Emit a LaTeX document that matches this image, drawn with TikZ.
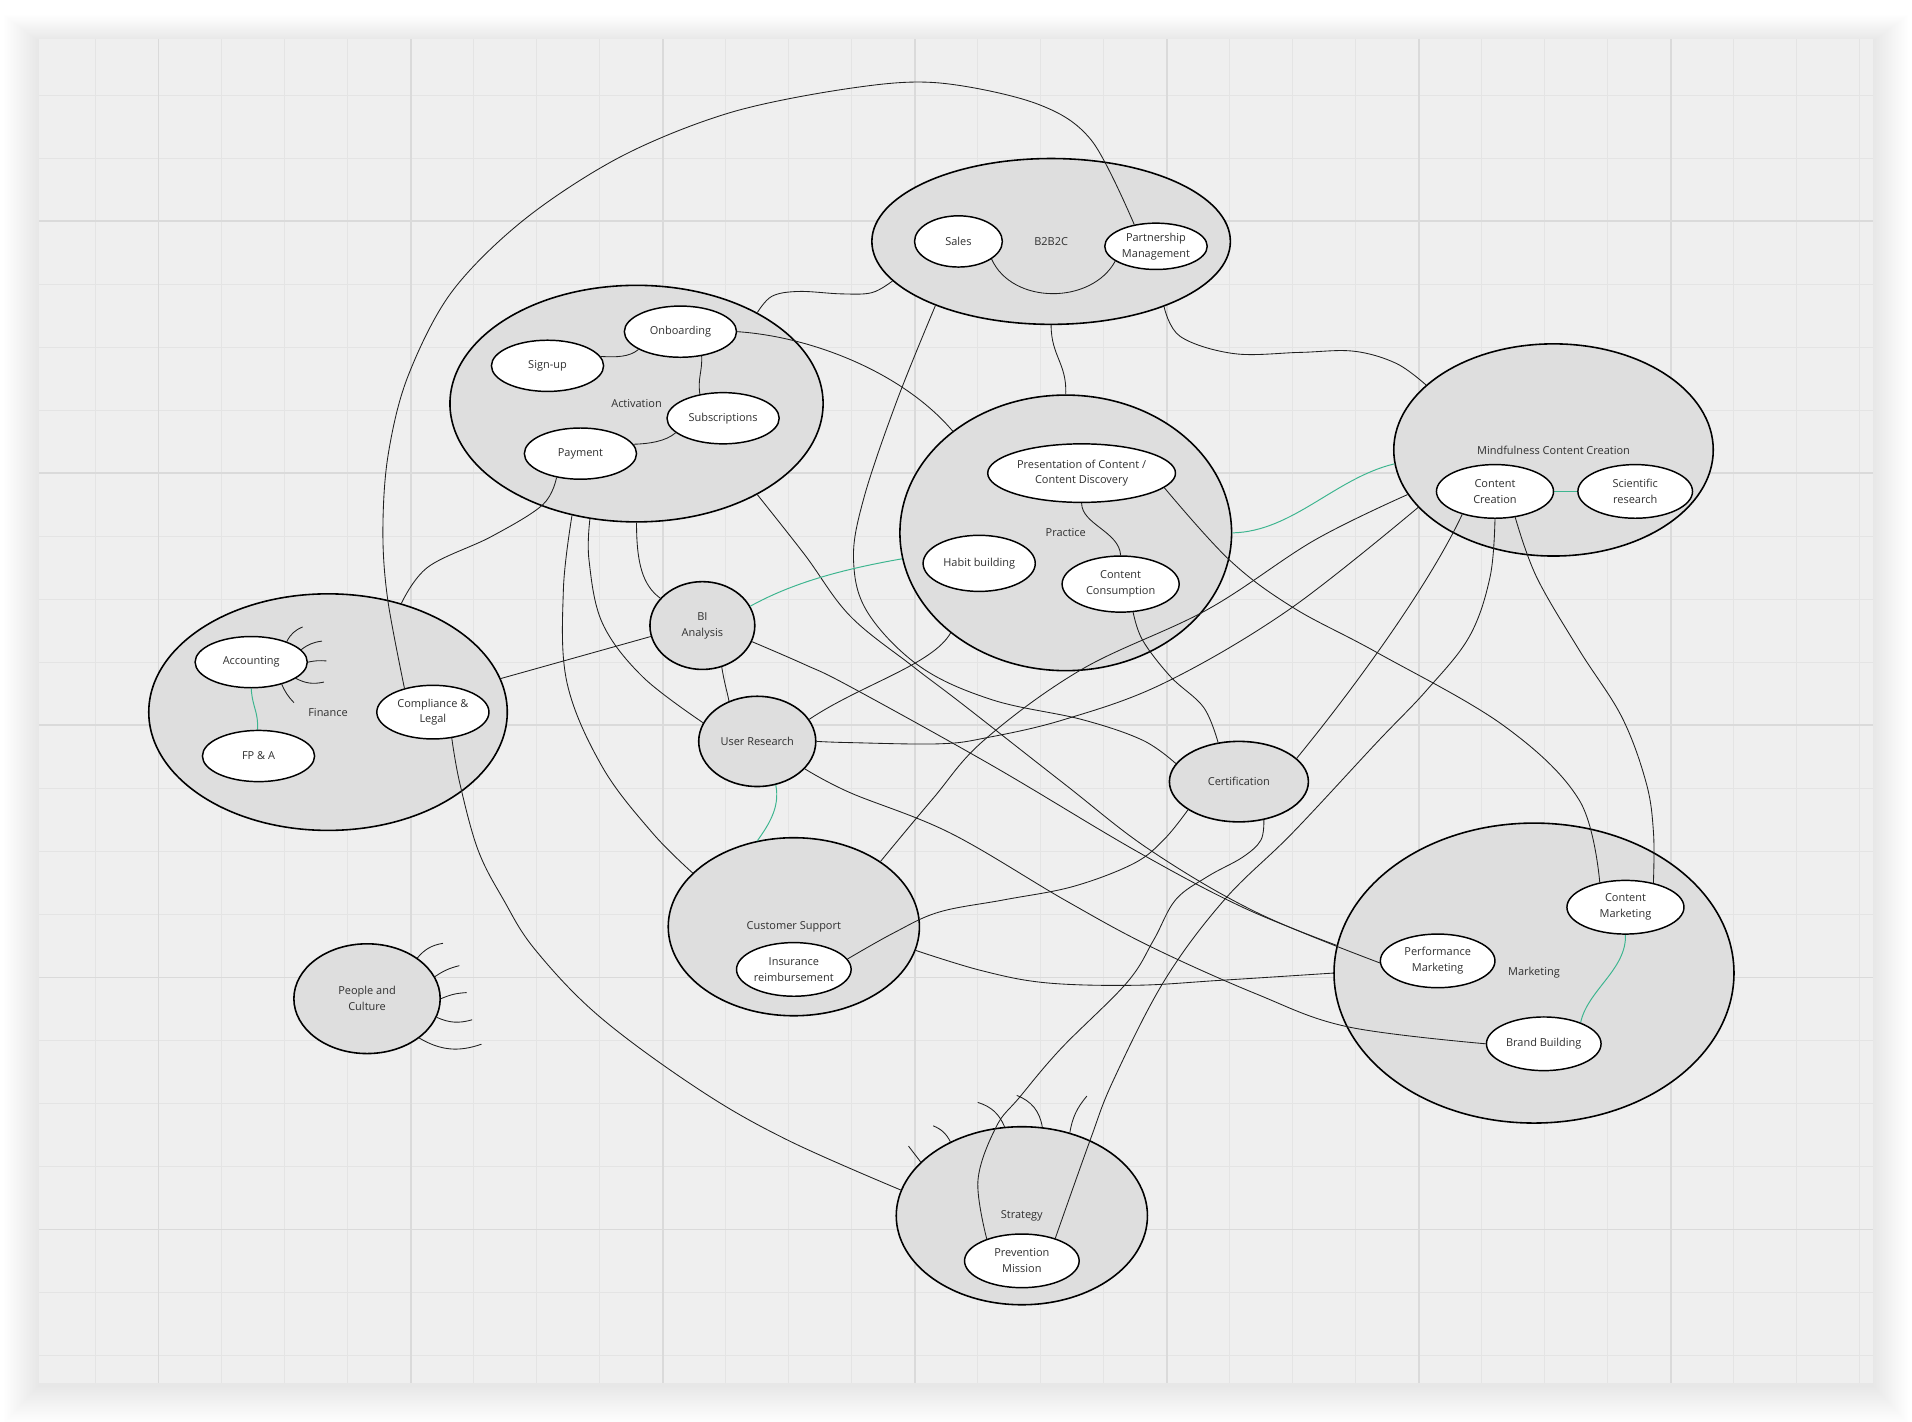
\documentclass[tikz,border=0pt]{standalone}
\usepackage{fontspec}
\setmainfont{Open Sans}
\usetikzlibrary{shapes.geometric}
\definecolor{bgpanel}{HTML}{EFEFEF}
\definecolor{gridminor}{HTML}{E4E4E4}
\definecolor{gridmajor}{HTML}{DADADA}
\definecolor{groupfill}{HTML}{DEDEDE}
\definecolor{linkgreen}{HTML}{3DB58F}
\definecolor{txt}{HTML}{303030}
\pgfdeclarelayer{bgl}
\pgfdeclarelayer{grp}
\pgfdeclarelayer{conl}
\pgfsetlayers{bgl,grp,conl,main}
\begin{document}
\begin{tikzpicture}[x=1pt,y=-1pt,
  group/.style={ellipse, draw=black, line width=1.3pt, fill=groupfill, inner sep=0pt},
  item/.style={ellipse, draw=black, line width=1.2pt, fill=white, inner sep=0pt},
  lbl/.style={text=txt, font=\fontsize{9}{13}\selectfont, align=center, inner sep=0pt},
  conn/.style={draw=black!88, line width=0.7pt},
  glink/.style={draw=linkgreen, line width=0.8pt},
  whisk/.style={draw=black!88, line width=0.7pt},
]
\useasboundingbox (0,0) rectangle (1568,1166);
\begin{pgfonlayer}{bgl}
\fill[white] (0,0) rectangle (1568,1166);
\foreach \i in {1,...,24} {
  \fill[black, opacity=0.0045] ({32-1.2*\i},{34-0.9*\i}) rectangle ({1536+1.2*\i},{1136+1.3*\i});
}
\fill[bgpanel] (32,32) rectangle (1536,1134);
\foreach \k in {0,...,28} \draw[gridminor, line width=1.2pt] ({78.3+51.67*\k},32) -- ({78.3+51.67*\k},1134);
\foreach \k in {0,...,20} \draw[gridminor, line width=1.2pt] (32,{78.3+51.67*\k}) -- (1536,{78.3+51.67*\k});
\foreach \k in {0,...,6} \draw[gridmajor, line width=1.6pt] ({130+206.67*\k},32) -- ({130+206.67*\k},1134);
\foreach \k in {0,...,4} \draw[gridmajor, line width=1.6pt] (32,{181.6+206.67*\k}) -- (1536,{181.6+206.67*\k});
\end{pgfonlayer}

\begin{pgfonlayer}{grp}
\node[group, minimum width=294pt, minimum height=136pt] (b2b) at (862,198) {};
\node[group, minimum width=306pt, minimum height=194pt] (act) at (522,331) {};
\node[group, minimum width=272pt, minimum height=226pt] (prac) at (874,437) {};
\node[group, minimum width=262pt, minimum height=174pt] (mcc) at (1274,369) {};
\node[group, minimum width=294pt, minimum height=194pt] (fin) at (269,584) {};
\node[group, minimum width=86pt, minimum height=72pt] (bi) at (576,513) {};
\node[group, minimum width=96pt, minimum height=74pt] (ur) at (621,608) {};
\node[group, minimum width=114pt, minimum height=66pt] (cert) at (1016,641) {};
\node[group, minimum width=206pt, minimum height=146pt] (cs) at (651,760) {};
\node[group, minimum width=120pt, minimum height=90pt] (pc) at (301,819) {};
\node[group, minimum width=328pt, minimum height=246pt] (mkt) at (1258,798) {};
\node[group, minimum width=206pt, minimum height=146pt] (strat) at (838,997) {};
\end{pgfonlayer}

\node[item, minimum width=72pt, minimum height=42pt] (sales) at (786,198) {};
\node[item, minimum width=84pt, minimum height=38pt] (pm) at (948,202) {};
\node[item, minimum width=92pt, minimum height=42pt] (onb) at (558,272) {};
\node[item, minimum width=92pt, minimum height=42pt] (sign) at (449,300) {};
\node[item, minimum width=92pt, minimum height=42pt] (subs) at (593,343) {};
\node[item, minimum width=92pt, minimum height=42pt] (pay) at (476,372) {};
\node[item, minimum width=154pt, minimum height=48pt] (pres) at (887,388) {};
\node[item, minimum width=92pt, minimum height=46pt] (habit) at (803,462) {};
\node[item, minimum width=96pt, minimum height=46pt] (cons) at (919,479) {};
\node[item, minimum width=96pt, minimum height=44pt] (ccr) at (1226,403) {};
\node[item, minimum width=94pt, minimum height=44pt] (sci) at (1341,403) {};
\node[item, minimum width=92pt, minimum height=42pt] (acc) at (206,543) {};
\node[item, minimum width=92pt, minimum height=42pt] (fpa) at (212,620) {};
\node[item, minimum width=92pt, minimum height=44pt] (comp) at (355,584) {};
\node[item, minimum width=94pt, minimum height=44pt] (ins) at (651,795) {};
\node[item, minimum width=96pt, minimum height=44pt] (cm) at (1333,744) {};
\node[item, minimum width=94pt, minimum height=44pt] (perf) at (1179,788) {};
\node[item, minimum width=94pt, minimum height=44pt] (bb) at (1266,856) {};
\node[item, minimum width=94pt, minimum height=44pt] (prev) at (838,1034) {};

\node[lbl] at (b2b) {B2B2C};
\node[lbl] at (act) {Activation};
\node[lbl] at (prac) {Practice};
\node[lbl] at (mcc) {Mindfulness Content Creation};
\node[lbl] at (fin) {Finance};
\node[lbl] at (bi) {BI\\Analysis};
\node[lbl] at (ur) {User Research};
\node[lbl] at (cert) {Certification};
\node[lbl] at (cs) {Customer Support};
\node[lbl] at (pc) {People and\\Culture};
\node[lbl] at (mkt) {Marketing};
\node[lbl] at (strat) {Strategy};
\node[lbl] at (sales) {Sales};
\node[lbl] at (pm) {Partnership\\Management};
\node[lbl] at (onb) {Onboarding};
\node[lbl] at (sign) {Sign-up};
\node[lbl] at (subs) {Subscriptions};
\node[lbl] at (pay) {Payment};
\node[lbl] at (pres) {Presentation of Content /\\Content Discovery};
\node[lbl] at (habit) {Habit building};
\node[lbl] at (cons) {Content\\Consumption};
\node[lbl] at (ccr) {Content\\Creation};
\node[lbl] at (sci) {Scientific\\research};
\node[lbl] at (acc) {Accounting};
\node[lbl] at (fpa) {FP \& A};
\node[lbl] at (comp) {Compliance \&\\Legal};
\node[lbl] at (ins) {Insurance\\reimbursement};
\node[lbl] at (cm) {Content\\Marketing};
\node[lbl] at (perf) {Performance\\Marketing};
\node[lbl] at (bb) {Brand Building};
\node[lbl] at (prev) {Prevention\\Mission};

\begin{pgfonlayer}{conl}
% long arc compliance -> partnership
\draw[conn] plot[smooth, tension=0.55] coordinates {(comp.140) (318,492) (314,437) (318,375) (334,310) (370,240) (430,180) (510,128) (600,92) (700,72) (770,68) (850,85) (895,115) (pm.135)};
\draw[conn] plot[smooth, tension=0.6] coordinates {(act.37) (633,243) (655,239) (690,241) (715,240) (b2b.194)};
\draw[conn] (onb.0) .. controls (665,276) and (740,305) .. (prac.138);
\draw[conn] plot[smooth, tension=0.6] coordinates {(b2b.209) (735,330) (708,410) (700,460) (712,503) (755,547) (814,574) (887,590) (937,607) (cert.164)};
\draw[conn] (b2b.270) .. controls (862,292) and (875,298) .. (prac.90);
\draw[conn] plot[smooth, tension=0.6] coordinates {(b2b.-30) (968,276) (1012,290) (1066,289) (1110,288) (1145,298) (mcc.153)};
\draw[conn] plot[smooth, tension=0.6] coordinates {(pay.225) (445,414) (403,440) (351,465) (fin.56)};
\draw[conn] plot[smooth, tension=0.6] coordinates {(act.240) (462,484) (465,560) (494,629) (535,683) (cs.152)};
\draw[conn] plot[smooth, tension=0.6] coordinates {(act.248) (483,459) (494,511) (527,555) (ur.161)};
\draw[conn] (act.270) .. controls (522,462) and (527,480) .. (bi.147);
\draw[conn] plot[smooth, tension=0.6] coordinates {(act.-37) (660,455) (697,505) (748,546) (790,578) (873,643) (943,697) (1030,748) (perf.182)};
\draw[conn] plot[smooth, tension=0.6] coordinates {(bi.-18) (660,545) (697,563) (814,628) (932,698) (1019,744) (mkt.172)};
\draw[glink] (bi.22) .. controls (650,478) and (690,467) .. (prac.189);
\draw[conn] (bi.192) -- (fin.11);
\draw[conn] (bi.-65) .. controls (594,560) and (596,566) .. (ur.125);
\draw[conn] plot[smooth, tension=0.6] coordinates {(ur.0) (697,609) (770,610) (809,605) (873,590) (955,560) (1057,500) (mcc.203)};
\draw[conn] plot[smooth, tension=0.6] coordinates {(cs.37) (765,655) (807,607) (887,549) (990,500) (1078,443) (mcc.197)};
\draw[conn] (ur.23) .. controls (705,562) and (765,545) .. (prac.221);
\draw[glink] (prac.0) .. controls (1060,436) and (1095,392) .. (mcc.185);
\draw[conn] plot[smooth, tension=0.6] coordinates {(pres.-10) (1008,459) (1060,498) (1129,535) (1233,595) (1295,656) (cm.136)};
\draw[conn] (ccr.215) .. controls (1172,480) and (1110,565) .. (cert.22);
\draw[conn] plot[smooth, tension=0.6] coordinates {(ccr.270) (1222,473) (1205,522) (1170,566) (1129,609) (1060,683) (1004,738) (955,804) (913,886) (894,935) (prev.34)};
\draw[conn] plot[smooth, tension=0.6] coordinates {(ccr.-52) (1260,473) (1295,533) (1330,588) (1350,642) (1356,683) (cm.41)};
\draw[conn] plot[smooth, tension=0.6] coordinates {(cert.209) (955,688) (930,708) (880,727) (823,738) (770,748) (733,765) (ins.11)};
\draw[conn] plot[smooth, tension=0.6] coordinates {(cs.-11) (805,796) (858,806) (931,808) (1000,804) (mkt.180)};
\draw[conn] plot[smooth, tension=0.6] coordinates {(ur.-30) (697,650) (779,683) (873,738) (943,776) (1030,815) (1105,842) (bb.180)};
\draw[glink] (ur.-67) .. controls (640,662) and (630,677) .. (cs.113);
\draw[conn] plot[smooth, tension=0.6] coordinates {(comp.-54) (377,642) (392,697) (413,738) (439,779) (492,834) (574,894) (646,935) (strat.168)};
\draw[conn] plot[smooth, tension=0.6] coordinates {(cons.-66) (937,525) (960,555) (987,580) (cert.118)};
\draw[conn] plot[smooth, tension=0.6] coordinates {(cert.-57) (1034,689) (1019,703) (990,719) (964,738) (946,771) (924,806) (870,860) (836,900) (817,924) (802,968) (prev.148)};
% inner links
\draw[conn] (sales.-28) .. controls (830,250) and (895,250) .. (pm.200);
\draw[conn] (sign.10) .. controls (505,293) and (516,293) .. (onb.203);
\draw[conn] (onb.-49) .. controls (576,305) and (572,310) .. (subs.134);
\draw[conn] (pay.10) .. controls (532,364) and (546,362) .. (subs.197);
\draw[conn] (pres.270) .. controls (887,430) and (918,436) .. (cons.90);
\draw[glink] (ccr.0) -- (sci.180);
\draw[glink] (acc.270) .. controls (207,580) and (212,584) .. (fpa.92);
\draw[glink] (cm.270) .. controls (1334,795) and (1302,812) .. (bb.30);
% whiskers
\draw[whisk] (acc.30) to[bend left=20] ++(13,-12);
\draw[whisk] (acc.14) to[bend left=15] ++(17,-7);
\draw[whisk] (acc.0) to[bend left=8] ++(15,-1);
\draw[whisk] (acc.-20) to[bend right=20] ++(23,3);
\draw[whisk] (acc.-36) to[bend right=10] ++(10,15);
\draw[whisk] (pc.39) to[bend left=20] ++(21,-12);
\draw[whisk] (pc.18) to[bend left=10] ++(20,-9);
\draw[whisk] (pc.0) to[bend left=10] ++(21,-5);
\draw[whisk] (pc.-15) to[bend right=20] ++(29,2);
\draw[whisk] (pc.-37) to[bend right=25] ++(51,5);
\draw[whisk] (strat.152) -- ++(-10,-13);
\draw[whisk] (strat.134.5) to[bend right=20] ++(-14,-13);
\draw[whisk] (strat.101.6) to[bend right=25] ++(-22,-20);
\draw[whisk] (strat.77) to[bend right=30] ++(-21,-26);
\draw[whisk] (strat.60.5) to[bend left=15] ++(14,-30);
\end{pgfonlayer}
\end{tikzpicture}
\end{document}
